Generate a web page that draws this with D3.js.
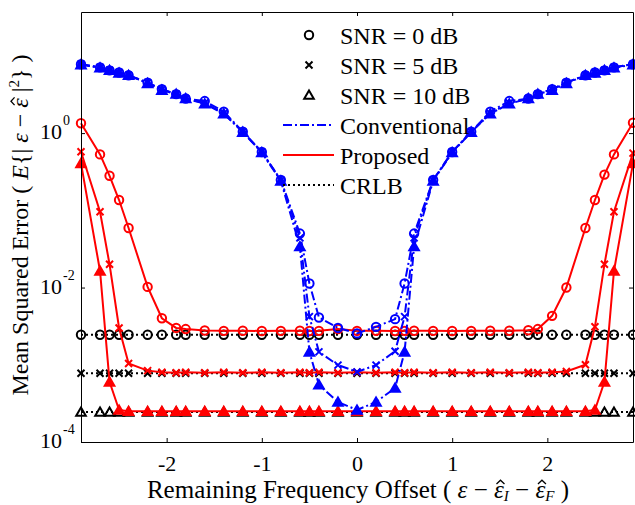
<!DOCTYPE html>
<html lang="en">
<head>
  <meta charset="UTF-8">
  <title>MSE vs remaining frequency offset</title>
  <script src="https://d3js.org/d3.v7.min.js"></script>
  <style>
    body { margin: 0; background: #fff; }
    svg { font-family: "Liberation Serif", "Times New Roman", serif; }
    .axis path, .axis line { stroke: #000; }
  </style>
</head>
<body>
<svg id="chart" width="635" height="505"></svg>
<script>
    const offsets = [-2.9, -2.7, -2.6, -2.5, -2.4, -2.2, -2.05, -1.9, -1.8, -1.6, -1.4, -1.2, -1.0, -0.8,
                     -0.6, -0.5, -0.4, -0.2, 0, 0.2, 0.4, 0.5, 0.6,
                     0.8, 1.0, 1.2, 1.4, 1.6, 1.8, 1.9, 2.05, 2.2, 2.4, 2.5, 2.6, 2.7, 2.9];

    const conv0 = [7.8, 7.1, 6.5, 6.1, 5.6, 4.5, 3.7, 3.2, 2.8, 2.6, 1.9, 1.04, 0.57, 0.247,
                   0.050, 0.0113, 0.0041, 0.0030, 0.00255, 0.0031, 0.0039, 0.0113, 0.050,
                   0.247, 0.57, 1.04, 1.9, 2.6, 2.8, 3.2, 3.7, 4.5, 5.6, 6.1, 6.5, 7.1, 7.8];
    const conv5 = [7.8, 7.1, 6.5, 6.1, 5.6, 4.5, 3.7, 3.2, 2.8, 2.45, 1.8, 1.04, 0.57, 0.245,
                   0.044, 0.0042, 0.00147, 0.00099, 0.00081, 0.00099, 0.0015, 0.0042, 0.044,
                   0.245, 0.57, 1.04, 1.8, 2.45, 2.8, 3.2, 3.7, 4.5, 5.6, 6.1, 6.5, 7.1, 7.8];
    const conv10 = [7.7, 7.0, 6.5, 6.0, 5.6, 4.4, 3.6, 3.2, 2.8, 2.4, 1.78, 1.03, 0.56, 0.24,
                    0.034, 0.00147, 0.00055, 0.00033, 0.00026, 0.00033, 0.0005, 0.00147, 0.034,
                    0.24, 0.56, 1.03, 1.78, 2.4, 2.8, 3.2, 3.6, 4.4, 5.6, 6.0, 6.5, 7.0, 7.7];

    const prop0 = [1.34, 0.53, 0.28, 0.136, 0.059, 0.0102, 0.0040, 0.0030, 0.0029, 0.00278, 0.00275, 0.00276, 0.00274, 0.00275,
                   0.00276, 0.00274, 0.00275, 0.0029, 0.00275, 0.00276, 0.00274, 0.00275, 0.00276,
                   0.00275, 0.00274, 0.00275, 0.00276, 0.00276, 0.0028, 0.0029, 0.0043, 0.0100, 0.059, 0.136, 0.29, 0.53, 1.36];
    const prop5 = [0.573, 0.0957, 0.020, 0.0030, 0.00104, 0.00084, 0.00080, 0.00079, 0.00080, 0.00079, 0.00080, 0.00079, 0.00080, 0.00079,
                   0.00080, 0.00079, 0.00080, 0.00079, 0.00080, 0.00079, 0.00080, 0.00079, 0.00080,
                   0.00079, 0.00080, 0.00079, 0.00080, 0.00079, 0.00080, 0.00079, 0.00080, 0.00082, 0.00100, 0.0031, 0.020, 0.0957, 0.55];
    const prop10 = [0.405, 0.0164, 0.00060, 0.00026, 0.00025, 0.00025, 0.00025, 0.00025, 0.00025, 0.00025, 0.00025, 0.00025, 0.00025, 0.00025,
                    0.00025, 0.00025, 0.00025, 0.00025, 0.00025, 0.00025, 0.00025, 0.00025, 0.00025,
                    0.00025, 0.00025, 0.00025, 0.00025, 0.00025, 0.00025, 0.00025, 0.00025, 0.00025, 0.00025, 0.00026, 0.00060, 0.0164, 0.405];

    // CRLB is flat over the offset, one level per SNR
    const crlbLevels = [2.45e-3, 7.75e-4, 2.45e-4];

    const snrNames = ["SNR = 0 dB", "SNR = 5 dB", "SNR = 10 dB"];
    const markerKinds = ["circle", "cross", "triangle"];
    const xTicks = [-2, -1, 0, 1, 2];
    const yTicks = [1e-4, 1e-2, 1];
    const yTickExp = ["-4", "-2", "0"];

    // ——— setup ———
    const svg = d3.select("#chart"),
          margin = { top: 12, right: 2, bottom: 63, left: 81 },
          width  = +svg.attr("width")  - margin.left - margin.right,
          height = +svg.attr("height") - margin.top  - margin.bottom;

    const x = d3.scaleLinear().domain([-2.9, 2.9]).range([0, width]);
    const y = d3.scaleLog().domain([1e-4, 37]).range([height, 0]);

    const BLUE = "#0000ff", RED = "#ff0000", BLACK = "#000000";

    const g = svg.append("g")
      .attr("transform", `translate(${margin.left},${margin.top})`);

    // draws one marker shape centred at 0,0
    function drawMarker(sel, kind, color, filled) {
      if (kind === "circle") {
        sel.append("circle").attr("r", 4.2)
          .attr("fill", "none").attr("stroke", color).attr("stroke-width", 2);
      } else if (kind === "cross") {
        sel.append("path").attr("d", "M-3.5,-3.5L3.5,3.5M-3.5,3.5L3.5,-3.5")
          .attr("stroke", color).attr("stroke-width", 2);
      } else {
        sel.append("path").attr("d", d3.symbol(d3.symbolTriangle, 40)())
          .attr("transform", "translate(0,1)")
          .attr("fill", filled ? color : "none")
          .attr("stroke", color).attr("stroke-width", 2)
          .attr("stroke-linejoin", "miter");
      }
    }

    const line = d3.line()
        .x(d => x(d.x))
        .y(d => y(d.v));

    function plotSeries(values, kind, color, dash, filled) {
      const data = offsets.map((o, i) => ({ x: o, v: values[i] }));
      g.append("path")
        .datum(data)
        .attr("fill", "none")
        .attr("stroke", color)
        .attr("stroke-width", 2)
        .attr("stroke-dasharray", dash)
        .attr("d", line);
      g.append("g").selectAll("g")
        .data(data)
        .join("g")
        .attr("transform", d => `translate(${x(d.x)},${y(d.v)})`)
        .each(function() { drawMarker(d3.select(this), kind, color, filled); });
    }

    // CRLB first, then proposed, conventional on top
    crlbLevels.forEach((lv, i) => {
      plotSeries(offsets.map(() => lv), markerKinds[i], BLACK, "2,3", false);
    });
    [prop0, prop5, prop10].forEach((s, i) => plotSeries(s, markerKinds[i], RED, null, true));
    [conv0, conv5, conv10].forEach((s, i) => plotSeries(s, markerKinds[i], BLUE, "9,3,2,3", true));

    // ——— axes ———
    g.append("g").attr("class", "axis")
      .attr("transform", `translate(0,${height})`)
      .call(d3.axisBottom(x).tickValues(xTicks).tickSize(-4).tickSizeOuter(0).tickPadding(13)
        .tickFormat(d => String(d)))
      .call(a => a.selectAll("text").attr("font-size", 22).attr("fill", BLACK)
        .attr("font-family", "Liberation Serif"));

    g.append("g").attr("class", "axis")
      .call(d3.axisTop(x).tickValues(xTicks).tickSize(-4).tickSizeOuter(0).tickFormat(""));

    g.append("g").attr("class", "axis")
      .call(d3.axisLeft(y).tickValues(yTicks).tickSize(-4).tickSizeOuter(0).tickFormat(""));

    g.append("g").attr("class", "axis")
      .attr("transform", `translate(${width},0)`)
      .call(d3.axisRight(y).tickValues(yTicks).tickSize(-4).tickSizeOuter(0).tickFormat(""));

    // y tick labels as 10^n
    yTicks.forEach((t, i) => {
      const lab = g.append("text")
        .attr("x", -41)
        .attr("y", y(t) + 6)
        .attr("text-anchor", "start")
        .attr("font-size", 22);
      lab.append("tspan").text("10");
      lab.append("tspan")
        .attr("font-size", 14)
        .attr("dy", -14)
        .attr("dx", 1)
        .text(yTickExp[i]);
    });

    // epsilon that gets a hat drawn over it afterwards
    function epsHat(t) {
      t.append("tspan").attr("class", "eps-hat").attr("font-style", "italic").text("ε");
    }
    function addHats(group, textSel, baseline, fs) {
      textSel.selectAll("tspan.eps-hat").each(function() {
        const b = this.getBBox();
        const cx = b.x + b.width / 2 + 0.06 * fs,
              w = 0.16 * fs,
              yb = baseline - 0.56 * fs,
              yt = baseline - 0.71 * fs;
        group.append("path")
          .attr("d", `M${cx - w},${yb}L${cx},${yt}L${cx + w},${yb}`)
          .attr("fill", "none").attr("stroke", BLACK).attr("stroke-width", 1.3);
      });
    }

    // ——— axis titles ———
    const xfs = 25, xBase = 498;
    const xGroup = svg.append("g");
    const xTitle = xGroup.append("text")
      .attr("x", margin.left + width / 2 + 1)
      .attr("y", xBase)
      .attr("text-anchor", "middle")
      .attr("font-size", xfs);
    xTitle.append("tspan").text("Remaining Frequency Offset ( ");
    xTitle.append("tspan").attr("font-style", "italic").text("ε");
    xTitle.append("tspan").text(" − ");
    epsHat(xTitle);
    xTitle.append("tspan").attr("font-style", "italic").attr("font-size", 15).attr("dy", 3).text("I");
    xTitle.append("tspan").attr("dy", -3).text(" − ");
    epsHat(xTitle);
    xTitle.append("tspan").attr("font-style", "italic").attr("font-size", 15).attr("dy", 3).text("F");
    xTitle.append("tspan").attr("dy", -3).text(" )");
    addHats(xGroup, xTitle, xBase, xfs);

    const yfs = 24;
    const yGroup = svg.append("g")
      .attr("transform", `translate(28,${margin.top + 213}) rotate(-90)`);
    const yTitle = yGroup.append("text")
      .attr("text-anchor", "middle")
      .attr("font-size", yfs);
    yTitle.append("tspan").text("Mean Squared Error ( ");
    yTitle.append("tspan").attr("font-style", "italic").text("E");
    yTitle.append("tspan").text("{| ");
    yTitle.append("tspan").attr("font-style", "italic").text("ε");
    yTitle.append("tspan").text(" − ");
    epsHat(yTitle);
    yTitle.append("tspan").text(" |");
    yTitle.append("tspan").attr("font-size", 15).attr("dy", -9).text("2");
    yTitle.append("tspan").attr("dy", 9).text("} )");
    addHats(yGroup, yTitle, 0, yfs);

    // ——— legend ———
    const legend = svg.append("g").attr("transform", "translate(283,35)");
    const rowH = 30;
    const lfs = 24;
    snrNames.forEach((name, i) => {
      const m = legend.append("g").attr("transform", `translate(26,${i * rowH})`);
      if (markerKinds[i] === "triangle") {
        m.append("path").attr("d", d3.symbol(d3.symbolTriangle, 40)())
          .attr("transform", "translate(0,1)")
          .attr("fill", "#fff").attr("stroke", BLACK).attr("stroke-width", 2);
      } else {
        drawMarker(m, markerKinds[i], BLACK, false);
      }
      legend.append("text")
        .attr("x", 57).attr("y", i * rowH + 9)
        .attr("font-size", lfs)
        .text(name);
    });
    const lineKeys = [
      { name: "Conventional", color: BLUE, dash: "9,3,2,3" },
      { name: "Proposed", color: RED, dash: null },
      { name: "CRLB", color: BLACK, dash: "2,3" }
    ];
    lineKeys.forEach((k, j) => {
      const yy = (j + 3) * rowH;
      legend.append("line")
        .attr("x1", 0).attr("x2", 51)
        .attr("y1", yy).attr("y2", yy)
        .attr("stroke", k.color).attr("stroke-width", 2)
        .attr("stroke-dasharray", k.dash);
      legend.append("text")
        .attr("x", 57).attr("y", yy + 9)
        .attr("font-size", lfs)
        .text(k.name);
    });
</script>
</body>
</html>
